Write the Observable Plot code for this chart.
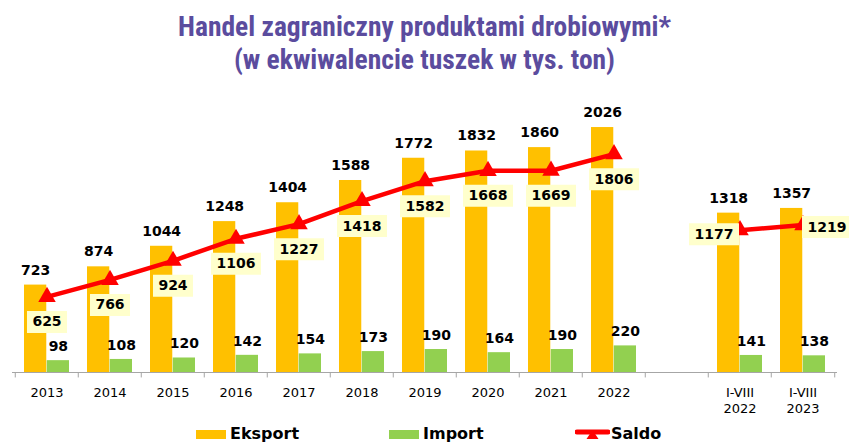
<!DOCTYPE html>
<html><head><meta charset="utf-8">
<script src="https://cdn.jsdelivr.net/npm/d3@7"></script>
<script src="https://cdn.jsdelivr.net/npm/@observablehq/plot@0.6"></script>
<style>
body{margin:0;background:#fff;}
#wrap{position:relative;width:849px;height:442px;overflow:hidden;font-family:"DejaVu Sans",Verdana,sans-serif;background:#fff;}
#title{position:absolute;top:10px;left:0;width:849px;text-align:center;color:#5B4C9E;font-family:"Liberation Sans Narrow","Roboto Condensed",sans-serif;font-weight:bold;font-size:27.5px;line-height:33px;}
#chart{position:absolute;top:76px;left:0;}
.leg{position:absolute;top:425px;display:flex;align-items:center;font-weight:bold;font-size:16px;color:#000;line-height:18px;white-space:nowrap;}
.sw{display:inline-block;width:30px;height:9px;margin-right:4px;}
</style></head><body>
<div id="wrap">
  <div id="title">Handel zagraniczny produktami drobiowymi*<br>(w ekwiwalencie tuszek w tys. ton)</div>
  <div id="chart"></div>
  <div class="leg" style="left:196px"><span class="sw" style="background:#FFC000"></span>Eksport</div>
  <div class="leg" style="left:389px"><span class="sw" style="background:#92D050"></span>Import</div>
  <div class="leg" style="left:575px"><svg width="35" height="14" style="margin-right:1px"><line x1="2" y1="5" x2="33" y2="5" stroke="#FF0000" stroke-width="5" stroke-linecap="round"/><path d="M17.5,3 L23.5,12 L11.5,12 Z" fill="#FF0000"/></svg>Saldo</div>
</div>
<script>
const categories = ["2013","2014","2015","2016","2017","2018","2019","2020","2021","2022"," ","I-VIII\n2022","I-VIII\n2023"];
const eksport = [723,874,1044,1248,1404,1588,1772,1832,1860,2026,null,1318,1357];
const importy = [98,108,120,142,154,173,190,164,190,220,null,141,138];
const saldo   = [625,766,924,1106,1227,1418,1582,1668,1669,1806,null,1177,1219];
const okres   = ["rok","rok","rok","rok","rok","rok","rok","rok","rok","rok",null,"I-VIII","I-VIII"];

const W = 849, H = 340, ML = 12, MR = 12, MT = 30, MB = 44;
const band = (W - ML - MR) / categories.length;

const rows = categories.map((c, i) => ({c, e: eksport[i], im: importy[i], s: saldo[i], g: okres[i]}))
  .filter(d => d.e != null);

const boxSym = (w, h) => ({draw(ctx) { ctx.rect(-w / 2, -h / 2, w, h); }});
const labelStyle = {fontWeight: "bold", fontSize: 14, fill: "#000"};

function saldoLabels(data, dx, dy) {
  const short = data.filter(d => String(d.s).length < 4);
  const long = data.filter(d => String(d.s).length >= 4);
  return [
    Plot.dot(short, {x: "c", y: "s", dx, dy, symbol: boxSym(40, 22), r: 1, fill: "#FFFFCC", stroke: "none"}),
    Plot.dot(long, {x: "c", y: "s", dx, dy, symbol: boxSym(50, 22), r: 1, fill: "#FFFFCC", stroke: "none"}),
    Plot.text(data, {x: "c", y: "s", text: d => String(d.s), dx, dy, ...labelStyle})
  ];
}

const annual = rows.filter(d => d.g === "rok");
const ytd22 = rows.filter(d => d.c === "I-VIII\n2022");
const ytd23 = rows.filter(d => d.c === "I-VIII\n2023");

const chart = Plot.plot({
  width: W, height: H,
  marginLeft: ML, marginRight: MR, marginTop: MT, marginBottom: MB,
  style: {fontFamily: "'DejaVu Sans', Verdana, sans-serif", fontSize: "13px", background: "transparent", color: "#000"},
  x: {domain: categories, padding: 0, axis: null},
  y: {domain: [0, 2200], axis: null},
  marks: [
    Plot.barY(rows, {x: "c", y: "e", fill: "#FFC000", insetLeft: 9, insetRight: band / 2}),
    Plot.barY(rows, {x: "c", y: "im", fill: "#92D050", insetLeft: band / 2, insetRight: 9}),
    Plot.ruleY([0], {stroke: "#A6A6A6", strokeWidth: 1.2}),
    Plot.ruleX(categories, {x: d => d, dx: -band / 2, y1: 0, y2: -45, stroke: "#A6A6A6"}),
    Plot.ruleX(categories.slice(-1), {x: d => d, dx: band / 2, y1: 0, y2: -45, stroke: "#A6A6A6"}),
    Plot.axisX({tickSize: 0, tickPadding: 13, fontSize: 13, lineHeight: 1.23, tickFormat: d => d, label: null}),
    Plot.text(rows, {x: "c", y: "e", text: d => String(d.e), dx: -band / 4 + 4.5, dy: -15, ...labelStyle}),
    Plot.text(rows, {x: "c", y: "im", text: d => String(d.im), dx: band / 4 - 4.5, dy: -14, ...labelStyle}),
    Plot.line(rows, {x: "c", y: "s", z: "g", stroke: "#FF0000", strokeWidth: 4.5}),
    Plot.dot(rows, {x: "c", y: "s", symbol: "triangle", r: 6.5, fill: "#FF0000", stroke: "none"}),
    ...saldoLabels(annual, 0, 25),
    ...saldoLabels(ytd22, -26, 4),
    ...saldoLabels(ytd23, 24, 2)
  ]
});
document.getElementById("chart").appendChild(chart);
</script>
</body></html>
